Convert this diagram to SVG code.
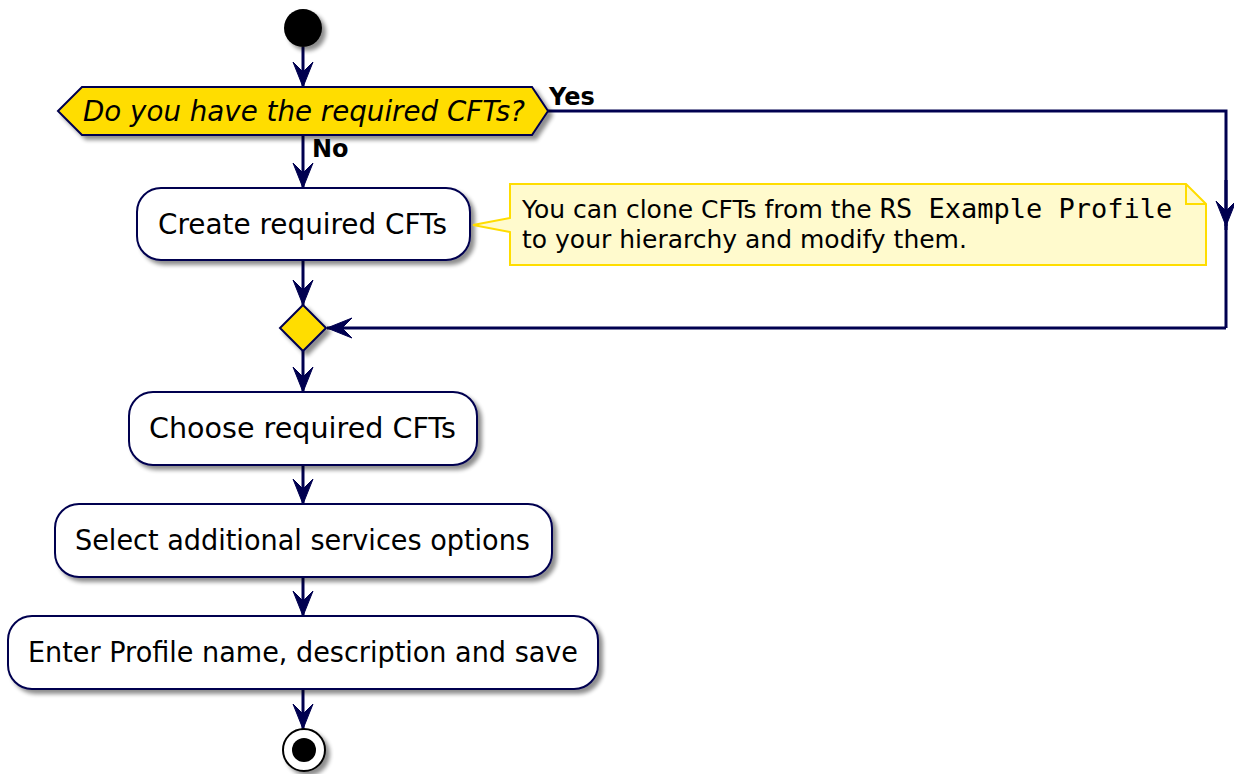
<svg xmlns="http://www.w3.org/2000/svg" width="1234" height="774" viewBox="0 0 1234 774">
<defs>
<filter id="sh" x="-10%" y="-10%" width="130%" height="140%">
<feGaussianBlur in="SourceAlpha" stdDeviation="2"/>
<feOffset dx="4" dy="4" result="o"/>
<feComponentTransfer><feFuncA type="linear" slope="0.45"/></feComponentTransfer>
<feMerge><feMergeNode/><feMergeNode in="SourceGraphic"/></feMerge>
</filter>
<marker id="ah" markerUnits="userSpaceOnUse" markerWidth="28" markerHeight="24" viewBox="-26 -12 28 24" refX="0" refY="0" orient="auto">
<polygon points="0,0 -25,-10 -15,0 -25,10" fill="#000050" stroke="#000050" stroke-width="1"/>
</marker>
<style>
.ln{stroke:#000050;stroke-width:3;fill:none}
.box{fill:#fff;stroke:#000050;stroke-width:2}
.dec{fill:#FFDD00;stroke:#000050;stroke-width:2}
.t{font-family:"DejaVu Sans",sans-serif;font-size:28px;fill:#000}
.lb{font-family:"DejaVu Sans",sans-serif;font-size:24px;font-weight:bold;fill:#000}
.nt{font-family:"DejaVu Sans",sans-serif;font-size:25px;fill:#000}
.mono{font-family:"DejaVu Sans Mono",monospace;font-size:27px}
</style>
</defs>
<g id="connectors">
<line class="ln" x1="303" y1="47" x2="303" y2="87" marker-end="url(#ah)"/>
<line class="ln" x1="303" y1="135" x2="303" y2="188" marker-end="url(#ah)"/>
<polyline class="ln" points="548,111 1226,111 1226,230"/>
<line class="ln" x1="1226" y1="180" x2="1226" y2="226" marker-end="url(#ah)"/>
<line class="ln" x1="1226" y1="224" x2="1226" y2="328"/>
<line class="ln" x1="1226" y1="328" x2="327" y2="328" marker-end="url(#ah)"/>
<line class="ln" x1="303" y1="260" x2="303" y2="305" marker-end="url(#ah)"/>
<line class="ln" x1="303" y1="351" x2="303" y2="392" marker-end="url(#ah)"/>
<line class="ln" x1="303" y1="465" x2="303" y2="504" marker-end="url(#ah)"/>
<line class="ln" x1="303" y1="577" x2="303" y2="616" marker-end="url(#ah)"/>
<line class="ln" x1="303" y1="689" x2="303" y2="729" marker-end="url(#ah)"/>
<text class="lb" x="549" y="105">Yes</text>
<text class="lb" x="312" y="157">No</text>
</g>
<g id="start"><circle cx="303" cy="28" r="19" fill="#000" filter="url(#sh)"/></g>
<g id="decision">
<polygon class="dec" filter="url(#sh)" points="58,111 82,87 532,87 548,111 532,135 82,135"/>
<text class="t" x="83" y="121" font-style="italic" textLength="442" lengthAdjust="spacingAndGlyphs">Do you have the required CFTs?</text>
</g>
<g id="create">
<rect class="box" filter="url(#sh)" x="137" y="188" width="333" height="72" rx="24"/>
<text class="t" x="158" y="234" textLength="289" lengthAdjust="spacingAndGlyphs">Create required CFTs</text>
</g>
<g id="note">
<path d="M510,184 L1186,184 L1206,204 L1206,265 L510,265 L510,232 L473,225 L510,218 Z" fill="#FFFACD" stroke="#FFDD00" stroke-width="2"/>
<path d="M1186,184 L1186,204 L1206,204" fill="none" stroke="#FFDD00" stroke-width="2"/>
<text class="nt" x="522" y="218">You can clone CFTs from the <tspan class="mono">RS Example Profile</tspan></text>
<text class="nt" x="522" y="248">to your hierarchy and modify them.</text>
</g>
<g id="merge">
<polygon class="dec" filter="url(#sh)" points="303,305 326,328 303,351 280,328"/>
</g>
<g id="choose">
<rect class="box" filter="url(#sh)" x="129" y="392" width="348" height="73" rx="24"/>
<text class="t" x="149" y="438" textLength="307" lengthAdjust="spacingAndGlyphs">Choose required CFTs</text>
</g>
<g id="select">
<rect class="box" filter="url(#sh)" x="55" y="504" width="497" height="73" rx="24"/>
<text class="t" x="75" y="550" textLength="455" lengthAdjust="spacingAndGlyphs">Select additional services options</text>
</g>
<g id="enter">
<rect class="box" filter="url(#sh)" x="8" y="616" width="590" height="73" rx="24"/>
<text class="t" x="28" y="662" textLength="550" lengthAdjust="spacingAndGlyphs">Enter Profile name, description and save</text>
</g>
<g id="end">
<circle cx="304" cy="750" r="21" fill="#fff" stroke="#000" stroke-width="2" filter="url(#sh)"/>
<circle cx="304" cy="750" r="12" fill="#000"/>
</g>
</svg>
